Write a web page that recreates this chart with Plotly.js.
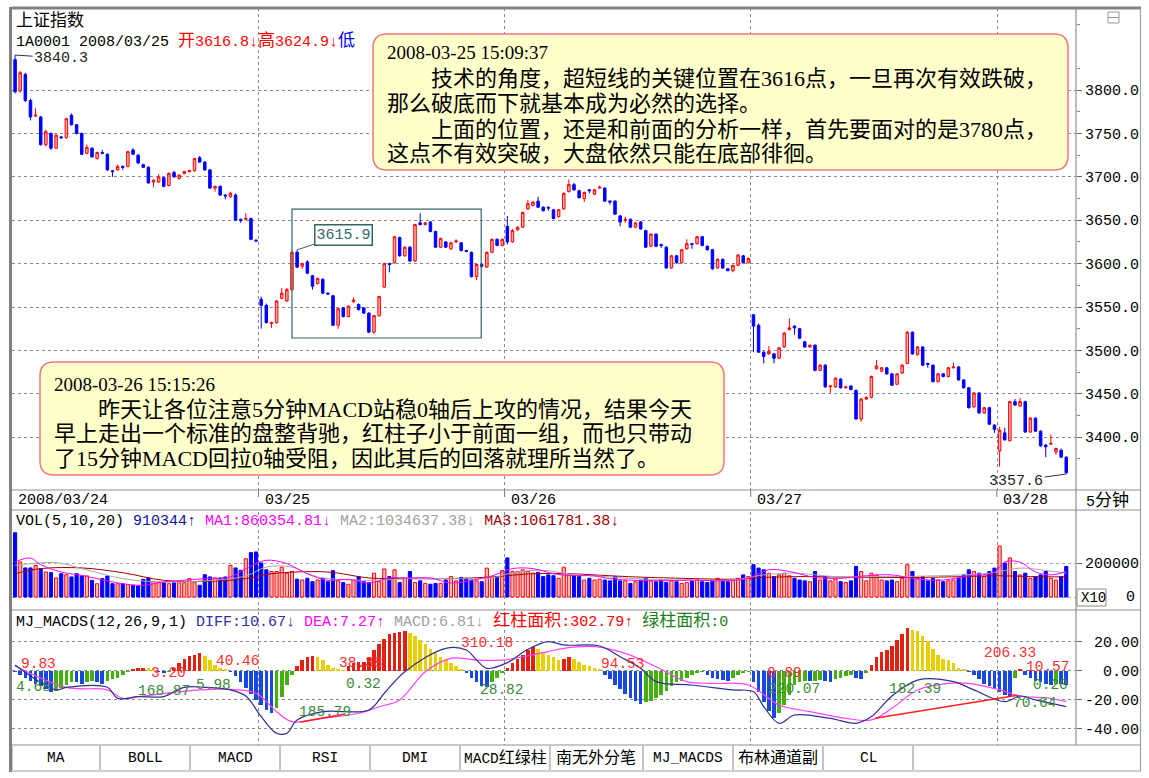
<!DOCTYPE html>
<html><head><meta charset="utf-8">
<script src="https://cdn.plot.ly/plotly-3.0.1.min.js"></script>
<style>html,body{margin:0;padding:0;background:#fff;}#chart{width:1149px;height:778px;}</style>
</head><body><div id="chart"></div>
<script>
// ---------------- DATA (5-minute bars, 2008/03/24 - 2008/03/28) ----------------
const dayLabels = ['2008/03/24','03/25','03/26','03/27','03/28'];
const dayStart = [0,48,96,144,192];

const openP = [
3835,3799,3818,3788,3770,3769,3737,3750,3733,3746,3745,3771,3760,3750,3727,3733,3721,3728,3726,3707,3708,3712,3712,3731,3725,3714,3711,3694,3694,3699,3690,3705,3698,3704,3706,3707,3722,3717,3708,3687,3689,3679,3677,3679,3651,3651,3652,3627,
3559,3552,3531,3532,3560,3557,3570,3613,3597,3602,3586,3577,3582,3566,3563,3529,3549,3539,3556,3553,3549,3543,3521,3540,3573,3600,3601,3630,3609,3619,3603,3647,3645,3648,3637,3619,3625,3617,3625,3624,3615,3613,3585,3599,3596,3613,3628,3621,
3643,3625,3639,3642,3663,3667,3672,3665,3665,3662,3654,3663,3683,3691,3684,3675,3685,3680,3687,3687,3672,3672,3655,3650,3651,3642,3648,3638,3620,3634,3622,3619,3595,3609,3601,3617,3623,3623,3631,3620,3616,3595,3605,3594,3592,3598,3609,3601,
3541,3529,3498,3496,3496,3491,3504,3524,3528,3525,3510,3504,3506,3477,3483,3458,3458,3467,3457,3459,3454,3421,3444,3446,3479,3476,3480,3473,3461,3474,3485,3521,3495,3504,3485,3483,3464,3473,3470,3480,3481,3466,3457,3435,3451,3428,3434,3414,
3384,3405,3396,3441,3436,3441,3406,3422,3407,3391,3392,3383,3385,3377];
const highP = [
3840.3,3822,3820,3790,3779,3770,3754,3751,3749,3747,3768,3773,3761,3751,3737,3734,3729,3731,3727,3708,3714,3713,3730,3733,3726,3715,3712,3697,3703,3700,3705,3707,3703,3707,3708,3722,3724,3718,3709,3690,3690,3680,3683,3681,3652,3658,3653,3628,
3562,3554,3533,3558,3572,3572,3614,3615.9,3601,3604,3587,3584,3583,3567,3564,3549,3550,3552,3561,3554,3550,3544,3541,3563,3601,3601,3632,3631,3620,3620,3646,3658,3648,3649,3638,3630,3626,3625,3628,3625,3616,3614,3600,3600,3614,3629,3629,3629,
3655,3640,3643,3660,3673,3672,3677,3666,3666,3663,3663,3682,3697,3693,3685,3683,3686,3686,3690,3688,3673,3673,3656,3654,3652,3648,3649,3639,3635,3635,3623,3620,3610,3610,3617,3628,3624,3632,3632,3621,3617,3606,3606,3595,3599,3611,3610,3607,
3542,3531,3499,3505,3497,3504,3521,3537,3529,3526,3511,3507,3507,3484,3484,3460,3469,3468,3459,3460,3455,3445,3447,3471,3489,3481,3481,3474,3474,3484,3522,3522,3505,3505,3486,3484,3474,3474,3481,3486,3482,3467,3458,3452,3452,3435,3435,3415,
3412,3411,3442,3444,3445,3442,3423,3423,3408,3392,3403,3388,3387,3378];
const lowP = [
3796,3797,3786,3765,3769,3736,3735,3731,3732,3744,3744,3759,3749,3725,3726,3722,3720,3726,3707,3700,3707,3708,3711,3725,3715,3710,3692,3688,3693,3688,3689,3699,3697,3703,3705,3706,3716,3707,3686,3683,3678,3674,3676,3649,3647,3650,3627,3625,
3525,3531,3526,3531,3559,3556,3569,3595,3594,3588,3570,3576,3565,3564,3528,3525,3538,3538,3555,3546,3542,3520,3519,3539,3572,3590,3600,3608,3608,3602,3602,3644,3644,3636,3618,3618,3618,3616,3624,3614,3613,3584,3581,3595,3595,3612,3620,3620,
3622,3624,3638,3641,3662,3666,3664,3660,3661,3651,3653,3662,3682,3684,3675,3671,3681,3679,3686,3671,3668,3656,3643,3647,3641,3641,3639,3618,3619,3619,3618,3594,3594,3600,3600,3616,3617,3622,3620,3615,3593,3594,3594,3591,3590,3597,3600,3600,
3498,3497,3485,3495,3485,3490,3503,3523,3518,3513,3503,3503,3476,3476,3457,3451,3457,3456,3456,3454,3420,3418,3443,3445,3478,3475,3472,3459,3460,3473,3484,3495,3494,3482,3480,3463,3463,3469,3469,3479,3465,3456,3433,3434,3427,3427,3414,3405,
3366,3396,3395,3436,3435,3405,3405,3406,3389,3377,3391,3380,3376,3357.6];
const closeP = [
3798,3820,3788,3769,3771,3737,3752,3733,3748,3745,3767,3760,3750,3726,3734,3723,3728,3727,3708,3706,3712,3711,3729,3726,3716,3711,3693,3696,3700,3689,3704,3700,3702,3706,3707,3721,3717,3708,3687,3689,3679,3678,3681,3650,3650,3652,3628,3626,
3552,3532,3532,3557,3566,3570,3613,3596,3600,3589,3574,3583,3566,3565,3529,3548,3539,3551,3558,3547,3543,3521,3540,3562,3600,3599,3631,3609,3619,3603,3645,3645,3647,3637,3619,3629,3619,3624,3626,3615,3614,3585,3599,3597,3613,3628,3621,3628,
3625,3638,3642,3659,3669,3671,3665,3661,3664,3652,3662,3681,3691,3685,3676,3682,3684,3685,3688,3672,3671,3657,3648,3651,3642,3647,3640,3619,3634,3620,3621,3595,3609,3601,3616,3623,3622,3631,3621,3616,3594,3605,3595,3592,3598,3610,3601,3606,
3528,3498,3493,3499,3491,3503,3520,3526,3526,3514,3504,3506,3477,3483,3458,3459,3468,3457,3458,3455,3421,3444,3446,3470,3482,3480,3473,3460,3473,3483,3521,3496,3504,3483,3484,3464,3473,3470,3480,3481,3466,3457,3434,3451,3428,3434,3415,3409,
3408,3397,3441,3437,3441,3406,3422,3407,3390,3389,3393,3387,3377,3359];
const volume = [
378000,206000,171000,171000,186000,167000,147000,143000,112000,137000,131000,118000,137000,124000,124000,98000,78000,108000,124000,78000,78000,78000,73000,69000,65000,104000,112000,92000,88000,84000,78000,84000,84000,84000,108000,88000,69000,131000,118000,112000,112000,118000,186000,171000,157000,225000,261000,265000,
200000,160000,150000,150000,175000,140000,150000,105000,100000,110000,90000,100000,110000,90000,155000,95000,85000,75000,100000,120000,90000,85000,140000,90000,165000,120000,160000,85000,110000,150000,85000,95000,80000,75000,80000,80000,100000,120000,95000,115000,110000,100000,95000,90000,170000,115000,120000,155000,
230000,150000,150000,160000,150000,140000,145000,120000,130000,125000,110000,175000,130000,125000,120000,100000,110000,100000,105000,100000,95000,120000,95000,95000,80000,90000,100000,110000,95000,90000,100000,85000,95000,90000,80000,85000,95000,100000,90000,85000,95000,110000,100000,90000,95000,110000,130000,120000,
190000,170000,160000,140000,120000,130000,140000,125000,110000,100000,95000,90000,150000,100000,120000,95000,105000,90000,85000,95000,180000,150000,95000,140000,130000,100000,95000,100000,90000,110000,190000,150000,110000,120000,95000,110000,100000,90000,95000,100000,110000,130000,160000,150000,140000,120000,150000,170000,
300000,200000,230000,150000,130000,140000,110000,120000,130000,150000,110000,100000,120000,180000];
// volume moving averages (MA1 5, MA2 10, MA3 20) read as knots: bar index / value
const ma1Idx = [0,3,5,9,13,21,25,29,37,42,45,49,53,57,61,65,69,73,77,81,85,89,93,97,101,105,108,113,116,121,126,132,138,143,147,151,156,161,166,171,176,181,186,191,193,196,199,202,205];
const ma1Val = [206000,229000,190000,147000,127000,78000,69000,88000,108000,118000,167000,216000,196000,137000,98000,104000,82000,112000,112000,112000,82000,98000,124000,167000,167000,137000,127000,124000,108000,98000,95000,100000,95000,110000,160000,150000,115000,110000,125000,130000,105000,100000,125000,145000,206000,205000,147000,130000,150000];
const ma2Idx = [0,8,13,21,29,37,45,49,54,59,69,77,85,93,97,103,108,116,121,130,140,146,152,160,170,180,190,196,200,205];
const ma2Val = [186000,202000,167000,108000,88000,95000,124000,176000,176000,118000,98000,108000,108000,112000,143000,157000,135000,118000,108000,100000,100000,130000,140000,120000,120000,125000,140000,170000,160000,140000];
const ma3Idx = [0,5,13,21,29,37,45,50,61,69,77,85,93,101,108,116,121,130,140,146,155,165,175,185,192,198,205];
const ma3Val = [137000,167000,171000,143000,98000,92000,108000,137000,147000,112000,108000,108000,118000,137000,137000,125000,118000,110000,105000,115000,120000,115000,115000,120000,125000,120000,118000];
// MJ_MACDS histogram per bar
const macdHist = [
-1,-3,-5,-7,-9,-11,-13,-15,-14,-12,-10,-8,-8,-9,-8,-7,-8,-9,-7,-6,-5,-3,-1,1,1.5,2,1.5,1,-1,-2,-1,2,5,8,10,11,12,10,7,4,2,1,-1,-4,-8,-12,-16,-20,
-24,-27,-29,-26,-18,-10,-3,3,7,9,10,9,7,4,2,1,0.5,3,5,6,6,9,14,18,22,25,26,26.5,27,26,24,21,18,15,12,9,7,5,3,1,-2,-5,-8,-11,-11.5,-8,-5,-2,
2,5,8,11,14,16,15,13,11,9,7,8,9,8,6,4,3,2,1,-3,-6,-10,-13,-16,-19,-21,-23,-22,-21,-19,-17,-14,-11,-8,-7,-5,-3,-2,-1,-3,-5,-6,-6.5,-7,-5,-3,-2,-1,
-8,-15,-22,-28,-33,-29,-24,-17,-10,-8,-7,-7.5,-7,-6.5,-7,-8,-6,-5,-4,-3,-5,-6,-2,4,9,13,14,17,21,25,29,28,27,24,20,15,11,8,7,5,2,1,-1,-3,-6,-9,-11,-13,
-15,-17,-18,-5,1,-3,-5,-7,-8,-9,-10,-9,-9.5,-10];
// DIFF / DEA lines as knots (bar index / value)
const diffIdx = [0,8,10,18,20,24,29,33,37,42,45,48,51,53,55,60,69,72,76,84,88,90,92,96,100,104,107,114,118,122,125,132,140,144,146,149,152,159,164,167,171,176,183,187,193,196,199,205];
const diffVal = [3.8,-13.4,-11.6,-11.6,-19.2,-18,-18,-11.6,-11.6,-13.4,-17.6,-31.8,-43.3,-43.3,-34.1,-28.4,-27.2,-15.7,-0.8,15.3,14.1,7.2,1.5,5.4,14.6,19.9,17.6,16.9,9.5,1.5,-7.7,-10,-13.4,-14.6,-24.9,-36.4,-30.7,-33,-36.4,-31.8,-17.6,-6.6,-7.7,-13.4,-21.5,-17.6,-20.3,-24.9];
const deaIdx = [0,10,18,21,25,36,42,47,51,54,60,67,71,75,80,85,90,95,99,104,107,113,119,125,131,136,143,149,155,162,167,171,176,182,186,192,196,201,205];
const deaVal = [3.1,-11.6,-13.4,-19.2,-17.6,-13.4,-13,-15.7,-28.4,-35.3,-33,-29.5,-25,-20.3,-0.8,8.4,7.2,7.2,9.5,13,15.3,16.4,11.8,2.6,-7.7,-8.9,-10,-23.8,-28.4,-33,-34.1,-26.1,-13.4,-8.9,-8.9,-13.4,-17.6,-18.8,-21.5];
// divergence lines drawn on the MACD panel
const trend1Idx = [55.6,64.4], trend1Val = [-35.5,-30];
const trend2Idx = [167.7,195.5], trend2Val = [-33,-17];
// MACD panel labels: [bar index, value, text, colour]
const macdLabels = [
 [4.5,4.5,'9.83','r'],[3.5,-11.5,'4.68','g'],[30,-2,'3.20','r'],[29,-14,'168.87','g'],[38.6,-10,'5.98','g'],
 [43.5,6.5,'40.46','r'],[67.5,5.5,'38.38','r'],[68,-9,'0.32','g'],[60.5,-28.5,'185.79','g'],[92,19,'310.18','r'],
 [95,-13.5,'28.82','g'],[118.5,4.5,'94.53','r'],[150,-1.5,'0.89','r'],[152,-12.5,'220.07','g'],[175.5,-12.5,'182.39','g'],
 [194,12,'206.33','r'],[201.5,2.6,'10.57','r'],[202,-10,'0.20','g'],[199,-22.6,'70.64','g']];

// ---------------- GEOMETRY ----------------
const W = 1149, H = 778;
const PX = x => x / W, PY = y => 1 - y / H;
const mono = 'Liberation Mono, DejaVu Sans Mono, Noto Sans CJK SC, monospace';
const serif = 'Liberation Serif, Noto Sans CJK SC, serif';
const cjk = 'Noto Sans CJK SC, sans-serif';
const C = (t, s) => '<span style="font-size:' + (s || 17) + 'px">' + t + '</span>';
const idx = closeP.map((_, i) => i);
const up = closeP.map((c, i) => c >= openP[i]);
const dayBounds = dayStart.slice(1).map(s => s - 0.5);

// ---------------- TRACES ----------------
const traces = [];
traces.push({type:'candlestick', x: idx, open: openP, high: highP, low: lowP, close: closeP,
  xaxis:'x', yaxis:'y', whiskerwidth:0, hoverinfo:'skip',
  increasing:{line:{color:'#FF0000', width:1}, fillcolor:'rgba(255,120,120,0.6)'},
  decreasing:{line:{color:'#0000FF', width:1}, fillcolor:'#0000FF'}});
traces.push({type:'bar', x: idx, y: volume, xaxis:'x2', yaxis:'y2', width:0.62, hoverinfo:'skip',
  marker:{color: up.map(u => u ? 'rgba(255,130,130,0.55)' : '#0000FF'),
          line:{color: up.map(u => u ? '#FF0000' : '#0000FF'), width:1}}});
traces.push({type:'scatter', mode:'lines', x: ma3Idx, y: ma3Val, xaxis:'x2', yaxis:'y2', line:{color:'#A00000', width:1, shape:'spline'}, hoverinfo:'skip'});
traces.push({type:'scatter', mode:'lines', x: ma2Idx, y: ma2Val, xaxis:'x2', yaxis:'y2', line:{color:'#A8A8A8', width:1, shape:'spline'}, hoverinfo:'skip'});
traces.push({type:'scatter', mode:'lines', x: ma1Idx, y: ma1Val, xaxis:'x2', yaxis:'y2', line:{color:'#FF00FF', width:1, shape:'spline'}, hoverinfo:'skip'});
const histColors = macdHist.map((v, i) => {
  const p = i > 0 ? macdHist[i-1] : 0;
  if (v >= 0) return v >= p ? '#E02010' : '#E8D000';
  return v <= p ? '#1848E0' : '#44B010';
});
traces.push({type:'bar', x: idx, y: macdHist, xaxis:'x3', yaxis:'y3', width:0.7, hoverinfo:'skip',
  marker:{color: histColors, line:{width:0}}});
traces.push({type:'scatter', mode:'lines', x: deaIdx, y: deaVal, xaxis:'x3', yaxis:'y3', line:{color:'#FF40FF', width:1.2, shape:'spline'}, hoverinfo:'skip'});
traces.push({type:'scatter', mode:'lines', x: diffIdx, y: diffVal, xaxis:'x3', yaxis:'y3', line:{color:'#303090', width:1.2, shape:'spline'}, hoverinfo:'skip'});
traces.push({type:'scatter', mode:'lines', x: trend1Idx, y: trend1Val, xaxis:'x3', yaxis:'y3', line:{color:'#FF2020', width:1.5}, hoverinfo:'skip'});
traces.push({type:'scatter', mode:'lines', x: trend2Idx, y: trend2Val, xaxis:'x3', yaxis:'y3', line:{color:'#FF2020', width:1.5}, hoverinfo:'skip'});

// ---------------- ANNOTATIONS / SHAPES ----------------
const ann = [];
function T(x, y, text, size, color, family, xanchor) {
  ann.push({xref:'paper', yref:'paper', x:PX(x), y:PY(y), text, showarrow:false,
    xanchor: xanchor || 'left', yanchor:'middle', font:{family: family || mono, size: size || 14, color: color || '#000'}});
}
const shapes = [];
function L(x0, y0, x1, y1, color, width, dash) {
  shapes.push({type:'line', xref:'paper', yref:'paper', x0:PX(x0), y0:PY(y0), x1:PX(x1), y1:PY(y1),
    line:{color, width, dash: dash || 'solid'}, layer:'above'});
}
function R(x0, y0, x1, y1, color, width, fill) {
  shapes.push({type:'rect', xref:'paper', yref:'paper', x0:PX(x0), y0:PY(y0), x1:PX(x1), y1:PY(y1),
    line:{color, width}, fillcolor: fill || 'rgba(0,0,0,0)', layer:'above'});
}
function RR(x0, y0, x1, y1, r, color, width, fill) {
  const p = (x, y) => PX(x) + ',' + PY(y);
  const d = 'M' + p(x0+r,y0) + ' L' + p(x1-r,y0) + ' Q' + p(x1,y0) + ' ' + p(x1,y0+r) +
    ' L' + p(x1,y1-r) + ' Q' + p(x1,y1) + ' ' + p(x1-r,y1) + ' L' + p(x0+r,y1) +
    ' Q' + p(x0,y1) + ' ' + p(x0,y1-r) + ' L' + p(x0,y0+r) + ' Q' + p(x0,y0) + ' ' + p(x0+r,y0) + ' Z';
  shapes.push({type:'path', xref:'paper', yref:'paper', path:d, line:{color, width}, fillcolor:fill, layer:'above'});
}

// main header
T(14, 18, '上证指数', 17, '#000', cjk);
T(14, 41, '1A0001 2008/03/25 <span style="color:#FF0000">' + C('开') + '3616.8↓' + C('高') + '3624.9↓</span><span style="color:#0000FF">' + C('低') + '</span>', 15);
// extreme labels
ann.push({xref:'x', yref:'y', x:0, y:3840.3, text:'3840.3', showarrow:true, arrowhead:0, arrowwidth:1, arrowcolor:'#333',
  ax:46, ay:3, standoff:0, font:{family:mono, size:15, color:'#222'}});
ann.push({xref:'x', yref:'y', x:205, y:3357.6, text:'3357.6', showarrow:true, arrowhead:0, arrowwidth:1, arrowcolor:'#333',
  ax:-50, ay:7, standoff:0, font:{family:mono, size:15, color:'#222'}});
ann.push({xref:'x', yref:'y', x:55, y:3615.9, text:'3615.9', showarrow:true, arrowhead:0, arrowwidth:1, arrowcolor:'#336666',
  ax:46, ay:-15, standoff:0, bgcolor:'#FFFFFF', bordercolor:'#336666', borderwidth:1.5, borderpad:1,
  font:{family:mono, size:15, color:'#336666'}});
// highlight box on 03/25
shapes.push({type:'rect', xref:'x', yref:'y', x0:54, x1:90.9, y0:3514.3, y1:3662.9, line:{color:'#336666', width:1.2}, fillcolor:'rgba(0,0,0,0)', layer:'above'});

// comment boxes
RR(373, 34, 1068, 170, 14, '#F07878', 1.5, '#FFFFCC');
RR(40, 362, 724, 475, 14, '#F07878', 1.5, '#FFFFCC');
T(385, 53, '2008-03-25 15:09:37', 19, '#000', serif);
T(385, 79, '　　技术的角度，超短线的关键位置在3616点，一旦再次有效跌破，', 22, '#000', serif);
T(385, 103, '那么破底而下就基本成为必然的选择。', 22, '#000', serif);
T(385, 129, '　　上面的位置，还是和前面的分析一样，首先要面对的是3780点，', 22, '#000', serif);
T(385, 153, '这点不有效突破，大盘依然只能在底部徘徊。', 22, '#000', serif);
T(52, 384, '2008-03-26 15:15:26', 19, '#000', serif);
T(52, 409, '　　昨天让各位注意5分钟MACD站稳0轴后上攻的情况，结果今天', 22, '#000', serif);
T(52, 434, '早上走出一个标准的盘整背驰，红柱子小于前面一组，而也只带动', 22, '#000', serif);
T(52, 458, '了15分钟MACD回拉0轴受阻，因此其后的回落就理所当然了。', 22, '#000', serif);

// date row
const dayPx = dayStart.map(s => 15 + s * 5.127);
dayLabels.forEach((t, k) => T(k === 0 ? 16 : dayPx[k] + 2, 500, t, 15));
T(1084, 501, '5' + C('分钟'), 15, '#000', mono);
dayBounds.forEach(b => { const x = 15 + b * 5.127; L(x, 490, x, 497, '#777', 1); });

// volume header
T(14, 521, 'VOL(5,10,20) <span style="color:#1010A0">910344↑</span> <span style="color:#FF00FF">MA1:860354.81↓</span> <span style="color:#A0A0A0">MA2:1034637.38↓</span> <span style="color:#A00000">MA3:1061781.38↓</span>', 15);
R(1077, 589, 1106, 606, '#888', 1, '#FFFFFF');
T(1079, 598, 'X10', 14);
T(1137, 597, '0', 15, '#000', mono, 'right');
// macd header
T(14, 621, 'MJ_MACDS(12,26,9,1) <span style="color:#3030A0">DIFF:10.67↓</span> <span style="color:#FF00FF">DEA:7.27↑</span> <span style="color:#A0A0A0">MACD:6.81↓</span> <span style="color:#FF0000">' + C('红柱面积') + ':302.79↑</span> <span style="color:#208020">' + C('绿柱面积') + ':0</span>', 15);
macdLabels.forEach(l => ann.push({xref:'x3', yref:'y3', x:l[0], y:l[1], text:l[2], showarrow:false,
  font:{family:mono, size:14.5, color: l[3] === 'r' ? '#FF3030' : '#3A8A3A'}}));

// tabs
const tabEdges = [12,100,190,280,370,460,550,643,733,823,913];
const tabNames = ['MA','BOLL','MACD','RSI','DMI','MACD' + C('红绿柱',16),C('南无外分笔',16),'MJ_MACDS',C('布林通道副',16),'CL'];
tabNames.forEach((t, k) => T((tabEdges[k] + tabEdges[k+1]) / 2, 758, t, 14.5, '#000', mono, 'center'));
tabEdges.forEach(x => L(x, 746, x, 770, '#888', 1));

// frame
L(12, 8, 1141, 8, '#808080', 3);
L(10.5, 7, 10.5, 772, '#808080', 3);
L(1140.5, 8, 1140.5, 771, '#A0A0A0', 1.2);
L(10, 771, 1141, 771, '#A0A0A0', 1.2);
L(1076, 8, 1076, 745, '#909090', 1.2);
[490, 510, 610, 745].forEach(y => L(12, y, 1141, y, '#909090', 1.2));
R(1108, 12, 1119, 23, '#999', 1);
L(1108, 17.5, 1119, 17.5, '#999', 1);

// ---------------- LAYOUT ----------------
const xr = [-0.6, 206.9];
const xbase = {domain:[PX(12), PX(1076)], range: xr, showticklabels:false, ticks:'', tickvals: dayBounds,
  showgrid:true, gridcolor:'#8A8A8A', griddash:'dot', gridwidth:1, zeroline:false, showline:false, fixedrange:true};
const ybase = {side:'right', ticks:'outside', ticklen:5, tickcolor:'#666', showgrid:true, gridcolor:'#8A8A8A',
  griddash:'dot', zeroline:false, showline:false, fixedrange:true, tickfont:{family:mono, size:15, color:'#000'}};
const mainTicks = [3400,3450,3500,3550,3600,3650,3700,3750,3800];
const layout = {
  width: W, height: H, margin:{l:0, r:0, t:0, b:0}, paper_bgcolor:'#FFFFFF', plot_bgcolor:'#FFFFFF',
  showlegend:false, hovermode:false, dragmode:false,
  xaxis: Object.assign({}, xbase, {anchor:'y', rangeslider:{visible:false}}),
  xaxis2: Object.assign({}, xbase, {anchor:'y2', matches:'x'}),
  xaxis3: Object.assign({}, xbase, {anchor:'y3', matches:'x'}),
  yaxis: Object.assign({}, ybase, {anchor:'x', domain:[PY(490), PY(8)], range:[3339.2, 3894.5],
    tickvals: mainTicks, ticktext: mainTicks.map(v => v.toFixed(1)),
    minor:{tick0:3375, dtick:50, ticks:'outside', ticklen:3, tickcolor:'#888', showgrid:false}}),
  yaxis2: Object.assign({}, ybase, {anchor:'x2', domain:[PY(610), PY(512)], range:[-76470, 500000],
    tickvals:[200000, 0], ticktext:['200000',''], gridcolor:'#AAAAAA'}),
  yaxis3: Object.assign({}, ybase, {anchor:'x3', domain:[PY(745), PY(612)], range:[-51.38, 40.34],
    tickvals:[20, 0, -20, -40], ticktext:['\u00a020.00','\u00a0\u00a00.00','-20.00','-40.00']}),
  bargap: 0, annotations: ann, shapes: shapes
};
Plotly.newPlot('chart', traces, layout, {staticPlot:true, displayModeBar:false});
</script></body></html>
